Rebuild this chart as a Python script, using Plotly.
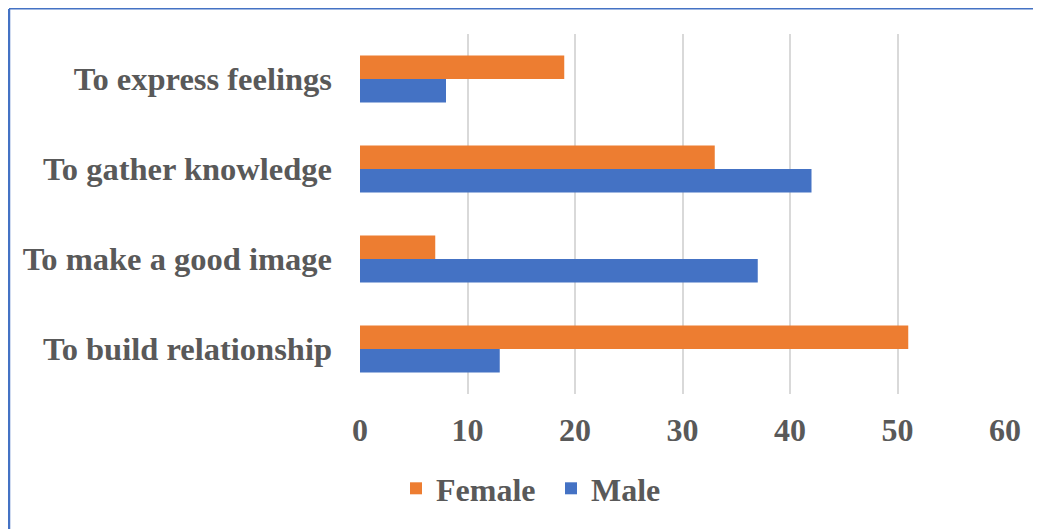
import plotly.graph_objects as go

categories = ["To build relationship", "To make a good image", "To gather knowledge", "To express feelings"]
female = [51, 7, 33, 19]
male = [13, 37, 42, 8]
x_ticks = [0, 10, 20, 30, 40, 50, 60]

# page is offset by 8px body margin; figure coords = page coords - 8
OFF = 8
W, H = 1041 - OFF, 529 - OFF
L, T = 360 - OFF, 34 - OFF
pw, ph = 645, 360
R, B = W - L - pw, H - T - ph

font_family = "Liberation Serif"
txt = "#595959"

fig = go.Figure()
fig.add_trace(go.Bar(y=categories, x=male, name="<b>Male</b>", orientation="h",
                     marker=dict(color="#4472C4", line=dict(width=0))))
fig.add_trace(go.Bar(y=categories, x=female, name="<b>Female</b>", orientation="h",
                     marker=dict(color="#ED7D31", line=dict(width=0))))

def px_x(p):
    return (p - OFF - L) / pw

def px_y(p):
    return 1 - (p - OFF - T) / ph

fig.update_layout(
    width=W, height=H,
    margin=dict(l=L, r=R, t=T, b=B, autoexpand=False),
    paper_bgcolor="white", plot_bgcolor="white",
    barmode="group", bargap=0.48, bargroupgap=0,
    font=dict(family=font_family, color=txt, size=32),
    xaxis=dict(range=[0, 60], tickvals=x_ticks, ticktext=[f"<b>{v}</b>" for v in x_ticks],
               showgrid=True, gridcolor="#D9D9D9", gridwidth=1.5,
               zeroline=False, showline=False, ticks="", ticklabelstandoff=14,
               tickfont=dict(size=32, family=font_family, color=txt), fixedrange=True),
    yaxis=dict(tickvals=categories, ticktext=[f"<b>{c}</b>" for c in categories],
               showgrid=False, zeroline=False, showline=False, ticks="",
               ticklabelstandoff=27, range=[-0.5, 3.5],
               tickfont=dict(size=32.5, family=font_family, color=txt)),
    legend=dict(orientation="h", traceorder="reversed", x=px_x(396), y=px_y(461),
                xanchor="left", yanchor="top", font=dict(size=32, family=font_family, color=txt),
                bgcolor="rgba(0,0,0,0)", entrywidth=110, entrywidthmode="pixels"),
    showlegend=True,
    shapes=[
        dict(type="line", xref="paper", yref="paper", x0=px_x(9), x1=px_x(9), y0=px_y(9), y1=px_y(529),
             line=dict(color="#4472C4", width=2.5)),
        dict(type="line", xref="paper", yref="paper", x0=px_x(9), x1=px_x(1041), y0=px_y(8.7), y1=px_y(8.7),
             line=dict(color="#4472C4", width=1.5)),
    ],
)

fig.write_html("out.html")
